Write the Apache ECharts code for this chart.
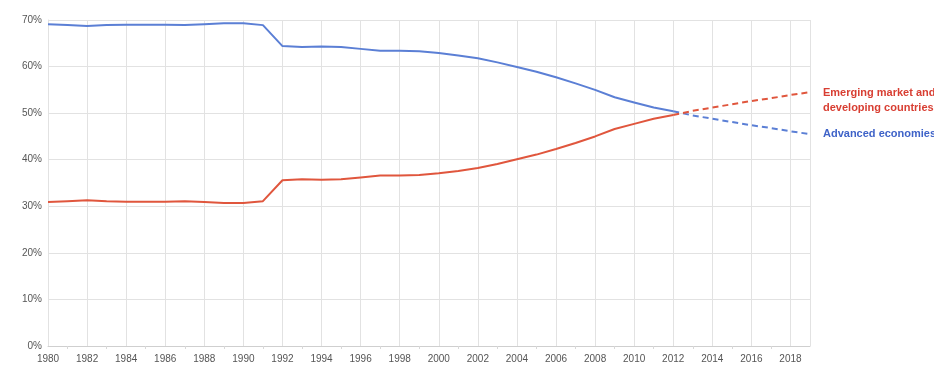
<!DOCTYPE html>
<html style="height: 100%">

<head>
    <meta charset="utf-8">
</head>

<body style="height: 100%; margin: 0; background: #fff">
    <div id="container" style="width: 934px; height: 372px"></div>
    <script src="https://cdn.jsdelivr.net/npm/echarts@6/dist/echarts.min.js"></script>
    <script type="text/javascript">
        // share of world GDP, percent
        var years = [1980, 1981, 1982, 1983, 1984, 1985, 1986, 1987, 1988, 1989,
            1990, 1991, 1992, 1993, 1994, 1995, 1996, 1997, 1998, 1999,
            2000, 2001, 2002, 2003, 2004, 2005, 2006, 2007, 2008, 2009,
            2010, 2011, 2012];
        var advanced = [69.1, 68.9, 68.7, 68.9, 69.0, 69.0, 69.0, 68.9, 69.1, 69.3,
            69.3, 68.9, 64.4, 64.2, 64.3, 64.2, 63.8, 63.4, 63.4, 63.3,
            62.9, 62.4, 61.8, 60.9, 59.9, 58.9, 57.7, 56.4, 55.0, 53.4,
            52.3, 51.2, 50.4];
        var emerging = [30.9, 31.1, 31.3, 31.1, 31.0, 31.0, 31.0, 31.1, 30.9, 30.7,
            30.7, 31.1, 35.6, 35.8, 35.7, 35.8, 36.2, 36.6, 36.6, 36.7,
            37.1, 37.6, 38.2, 39.1, 40.1, 41.1, 42.3, 43.6, 45.0, 46.6,
            47.7, 48.8, 49.6];

        // projections (dashed)
        var projYears = [2012, 2013, 2014, 2015, 2016, 2017, 2018, 2019];
        var advancedProj = [50.4, 49.5, 48.8, 48.1, 47.4, 46.8, 46.1, 45.5];
        var emergingProj = [49.6, 50.5, 51.2, 51.9, 52.6, 53.2, 53.9, 54.5];

        var yTicks = [0, 10, 20, 30, 40, 50, 60, 70];

        var blue = '#5b7fd5';
        var red = '#e0563d';

        function pairs(xs, ys) {
            return xs.map(function (x, i) { return [x, ys[i]]; });
        }

        var dom = document.getElementById("container");
        var myChart = echarts.init(dom);

        var option = {
            animation: false,
            grid: {
                left: 48,
                right: 124,
                top: 20,
                bottom: 26
            },
            xAxis: {
                type: 'value',
                min: 1980,
                max: 2019,
                interval: 2,
                axisLine: { show: true, lineStyle: { color: '#cfcfcf' } },
                axisTick: { show: false },
                minorTick: { show: true, splitNumber: 2, length: 3, lineStyle: { color: '#d8d8d8' } },
                axisLabel: {
                    color: '#555',
                    fontFamily: 'Liberation Sans',
                    fontSize: 10,
                    margin: 8,
                    showMaxLabel: false,
                    formatter: function (v) { return String(v); }
                },
                splitLine: { show: true, lineStyle: { color: '#e2e2e2' } }
            },
            yAxis: {
                type: 'value',
                min: yTicks[0],
                max: yTicks[yTicks.length - 1],
                interval: 10,
                axisLine: { show: true, lineStyle: { color: '#e2e2e2' } },
                axisTick: { show: false },
                axisLabel: {
                    color: '#555',
                    fontFamily: 'Liberation Sans',
                    fontSize: 10,
                    margin: 6,
                    formatter: '{value}%'
                },
                splitLine: { show: true, lineStyle: { color: '#e2e2e2' } }
            },
            series: [
                {
                    name: 'Advanced economies',
                    type: 'line',
                    data: pairs(years, advanced),
                    showSymbol: false,
                    lineStyle: { color: blue, width: 2 }
                },
                {
                    name: 'Emerging market and developing countries',
                    type: 'line',
                    data: pairs(years, emerging),
                    showSymbol: false,
                    lineStyle: { color: red, width: 2 }
                },
                {
                    name: 'Advanced economies (projection)',
                    type: 'line',
                    data: pairs(projYears, advancedProj),
                    showSymbol: false,
                    lineStyle: { color: blue, width: 2, type: [6, 4] },
                    endLabel: {
                        show: true,
                        distance: 13,
                        formatter: 'Advanced economies',
                        color: '#3f63c8',
                        fontFamily: 'Liberation Sans',
                        fontWeight: 'bold',
                        fontSize: 11
                    }
                },
                {
                    name: 'Emerging market and developing countries (projection)',
                    type: 'line',
                    data: pairs(projYears, emergingProj),
                    showSymbol: false,
                    lineStyle: { color: red, width: 2, type: [6, 4] },
                    endLabel: {
                        show: true,
                        distance: 13,
                        offset: [0, 8],
                        lineHeight: 15,
                        formatter: 'Emerging market and\ndeveloping countries',
                        color: '#d83e32',
                        fontFamily: 'Liberation Sans',
                        fontWeight: 'bold',
                        fontSize: 11
                    }
                }
            ]
        };

        if (option && typeof option === "object") {
            myChart.setOption(option, true);
        }
    </script>
</body>

</html>
